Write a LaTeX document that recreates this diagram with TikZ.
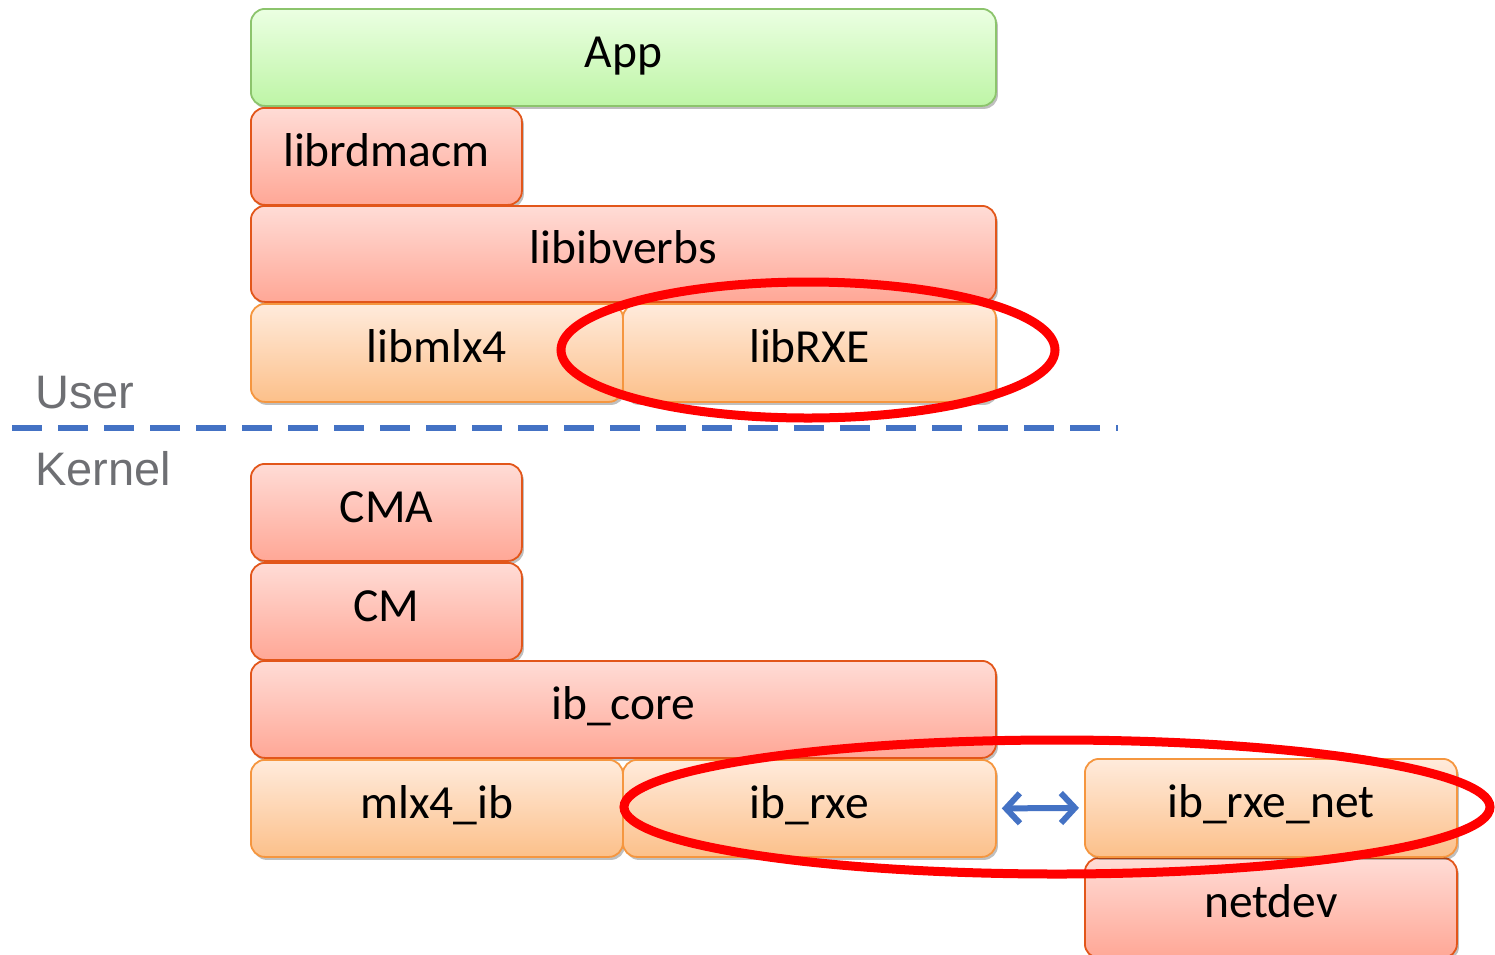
\documentclass[tikz,border=0pt]{standalone}
\usepackage{fontspec}
\setmainfont{Carlito}
\newfontfamily\arialf{Liberation Sans}
\usetikzlibrary{shadows,arrows.meta}
\definecolor{grnTop}{HTML}{EBFFE2}
\definecolor{grnBot}{HTML}{BEF5A6}
\definecolor{grnLine}{HTML}{8CC46C}
\definecolor{redTop}{HTML}{FFDCD6}
\definecolor{redBot}{HTML}{FFA796}
\definecolor{redLine}{HTML}{E2561A}
\definecolor{orgTop}{HTML}{FFEBDC}
\definecolor{orgBot}{HTML}{FCC08A}
\definecolor{orgLine}{HTML}{F5963F}
\definecolor{dashBlue}{HTML}{4472C4}
\definecolor{txtGray}{HTML}{6E6F73}
\tikzset{
  layer/.style={draw, line width=1.8pt, rounded corners=14pt, anchor=north west,
    inner sep=0pt, font=\fontsize{47.5}{52}\selectfont, text height=34pt, text depth=14pt,
    drop shadow={shadow xshift=2pt, shadow yshift=-3pt, opacity=0.25, fill=black}},
  greenbox/.style={layer, draw=grnLine, top color=grnTop, bottom color=grnBot},
  redbox/.style={layer, draw=redLine, top color=redTop, bottom color=redBot},
  orangebox/.style={layer, draw=orgLine, top color=orgTop, bottom color=orgBot},
  halo/.style={draw=red, line width=9pt},
  sidelabel/.style={anchor=base west, text=txtGray, font=\arialf\fontsize{47}{52}\selectfont, inner sep=0pt}
}
\begin{document}
\begin{tikzpicture}[x=1pt,y=-1pt]
\useasboundingbox (0,0) rectangle (1495,954);
% user space
\node[greenbox, minimum width=745pt, minimum height=97pt] (app) at (250,8) {App};
\node[redbox, minimum width=271pt, minimum height=97pt] (rdmacm) at (250,107) {librdmacm};
\node[redbox, minimum width=745pt, minimum height=96pt] (ibverbs) at (250,205) {libibverbs};
\node[orangebox, minimum width=372pt, minimum height=98pt] (mlx4) at (250,303) {libmlx4};
\node[orangebox, minimum width=373pt, minimum height=98pt] (librxe) at (622,303) {libRXE};
% separator
\node[sidelabel] (user) at (35,408) {User};
\node[sidelabel] (kernel) at (35,485) {Kernel};
\coordinate (dl) at (12,428);
\coordinate (dr) at (1118,428);
\draw[dashBlue, line width=6pt, dash pattern=on 30pt off 16pt] (dl) -- (dr);
% kernel space
\node[redbox, minimum width=271pt, minimum height=97pt] (cma) at (250,463) {CMA};
\node[redbox, minimum width=271pt, minimum height=97pt] (cm) at (250,562) {CM};
\node[redbox, minimum width=745pt, minimum height=97pt] (ibcore) at (250,660) {ib\_core};
\node[orangebox, minimum width=372pt, minimum height=97pt] (mlx4ib) at (250,759) {mlx4\_ib};
\node[orangebox, minimum width=373pt, minimum height=97pt] (ibrxe) at (622,759) {ib\_rxe};
\node[redbox, minimum width=372pt, minimum height=100pt] (netdev) at (1084,857) {netdev};
\node[orangebox, minimum width=372pt, minimum height=98pt] (rxenet) at (1084,758) {ib\_rxe\_net};
% arrow
\draw[dashBlue, line width=6pt, {Straight Barb[length=14pt,width=30pt,line width=6pt]}-{Straight Barb[length=14pt,width=30pt,line width=6pt]}] ([xshift=5pt]ibrxe.east) -- ([xshift=-5pt]rxenet.west);
% highlight ellipses
\draw[halo] (808,350) ellipse [x radius=247, y radius=68];
\draw[halo] (1057,807) ellipse [x radius=433, y radius=67];
\end{tikzpicture}
\end{document}
